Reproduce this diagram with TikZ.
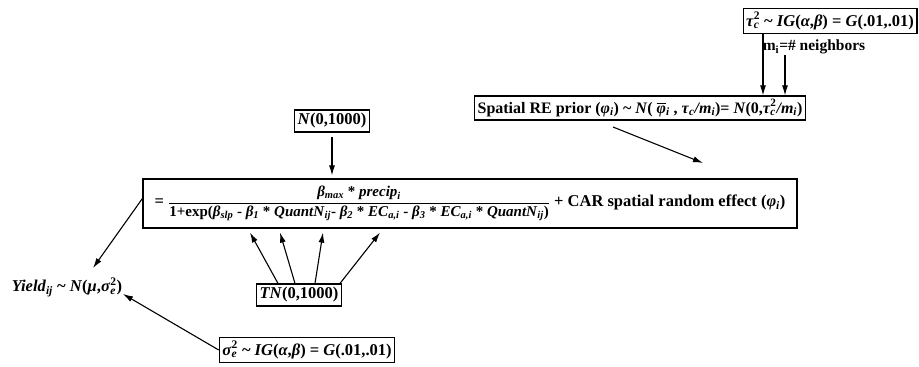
\documentclass[tikz,border=0pt]{standalone}
\usepackage{amsmath}
\usepackage{fontspec}
\setmainfont{Liberation Serif}
\usetikzlibrary{arrows.meta,calc}
\newcommand\vi[1]{\textit{#1}}
\newcommand\sbsp[2]{\rlap{\textsubscript{#1}}\textsuperscript{#2}}
\newcommand\fsmall{\fontsize{15}{17}\selectfont}
\tikzset{
  box/.style={draw, line width=1.2pt, inner xsep=3pt, inner ysep=3.5pt, font=\fontsize{16.5}{19}\selectfont\bfseries},
  lbl/.style={inner sep=1pt, font=\fontsize{16.5}{19}\selectfont\bfseries},
  arr/.style={line width=1.1pt, -{Latex[length=10pt,width=6pt]}},
}
\begin{document}
\begin{tikzpicture}[x=1pt,y=-1pt]
\useasboundingbox[fill=white] (0,0) rectangle (919,367);
% nodes
\node[box] (tau) at (830,21) {\vi{τ}\sbsp{\vi{c}}{2} \textasciitilde{} \vi{IG}(\vi{α},\vi{β}) = \vi{G}(.01,.01)};
\node[lbl, font=\fontsize{15.5}{18}\selectfont\bfseries] (mi) at (814,47) {m\textsubscript{i}=\# neighbors};
\node[box, font=\fontsize{16}{19}\selectfont\bfseries] (sp) at (640,108) {Spatial RE prior (\vi{φ}\textsubscript{\vi{i}}) \textasciitilde{} \vi{N}( $\overline{\text{\vi{φ}}}$\textsubscript{\vi{i}} , \vi{τ}\textsubscript{\vi{c}}\vi{/m}\textsubscript{\vi{i}})= \vi{N}(0,\vi{τ}\sbsp{\vi{c}}{2}\vi{/m}\textsubscript{\vi{i}})};
\node[box] (nb) at (332,121) {\vi{N}(0,1000)};
\node[box, minimum width=654pt, minimum height=49pt, inner xsep=2pt] (main) at (470,203.5) {= {\fsmall$\dfrac{\text{\vi{β}\textsubscript{\vi{max}} * \vi{precip}\textsubscript{\vi{i}}}}{\text{1+exp(\vi{β}\textsubscript{\vi{slp}} - \vi{β}\textsubscript{\vi{1}} * \vi{QuantN}\textsubscript{\vi{ij}}- \vi{β}\textsubscript{\vi{2}} * \vi{EC}\textsubscript{\vi{a,i}} - \vi{β}\textsubscript{\vi{3}} * \vi{EC}\textsubscript{\vi{a,i}} * \vi{QuantN}\textsubscript{\vi{ij}})}}$} + CAR spatial random effect (\vi{φ}\textsubscript{\vi{i}})};
\node[box] (tn) at (299,295) {\vi{TN}(0,1000)};
\node[lbl] (yield) at (67,287) {\vi{Yield}\textsubscript{\vi{ij}} \textasciitilde{} \vi{N}(\vi{μ},\vi{σ}\sbsp{\vi{e}}{2})};
\node[box] (sig) at (307,350) {\vi{σ}\sbsp{\vi{e}}{2} \textasciitilde{} \vi{IG}(\vi{α},\vi{β}) = \vi{G}(.01,.01)};
% helper coordinates
\coordinate (xa) at (763,0);
\coordinate (xb) at (785,0);
\coordinate (s1) at (613,127);
\coordinate (e1) at (703,163);
\coordinate (ye) at (93,268);
\coordinate (ys) at (123,294);
\coordinate (t1) at (278,0); \coordinate (h1) at (250,0);
\coordinate (t2) at (295,0); \coordinate (h2) at (280,0);
\coordinate (t3) at (315,0); \coordinate (h3) at (323,0);
\coordinate (t4) at (340,0); \coordinate (h4) at (380,0);
% connectors
\draw[arr] (tau.south -| xa) -- (sp.north -| xa);
\draw[arr] (mi.south -| xb) -- (sp.north -| xb);
\draw[arr] (s1) -- (e1);
\draw[arr] ($(nb.south)+(0,4)$) -- ($(main.north -| nb.south)+(0,-3)$);
\draw[arr] ($(main.west)+(0,-5)$) -- (ye);
\draw[arr] (sig.west) -- (ys);
\foreach \i in {1,2,3,4}
  \draw[arr] (tn.north -| t\i) -- ($(main.south -| h\i)+(0,4)$);
\end{tikzpicture}
\end{document}
